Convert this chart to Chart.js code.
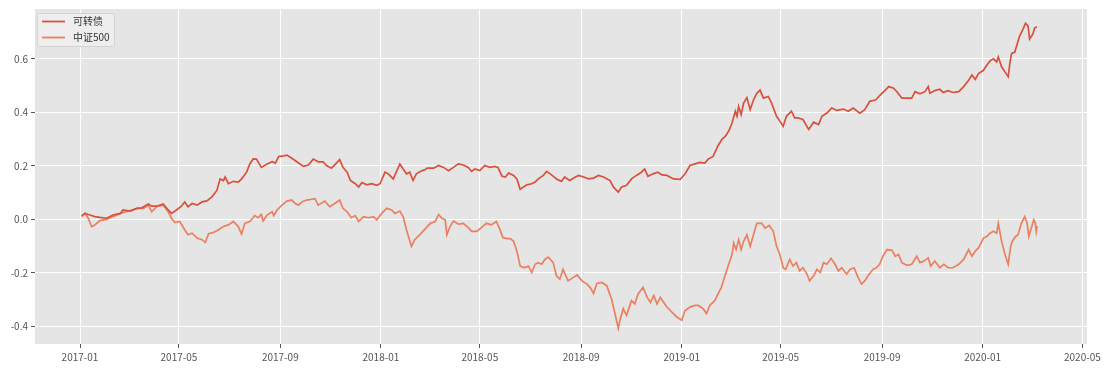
<!DOCTYPE html>
<html><head><meta charset="utf-8">
<script src="https://cdn.jsdelivr.net/npm/chart.js@4.4.1/dist/chart.umd.min.js"></script>
<style>html,body{margin:0;padding:0;background:#fff;}canvas{display:block;}</style>
</head><body>
<canvas id="c" width="1107" height="372"></canvas>
<script>
// ---- data ----
const seriesNames = ['可转债', '中证500'];
const xTickLabels = ['2017-01','2017-05','2017-09','2018-01','2018-05','2018-09','2019-01','2019-05','2019-09','2020-01','2020-05'];
const yTickValues = [-0.4, -0.2, 0.0, 0.2, 0.4, 0.6];
// x values: days since 2017-01-01
const cbDays = [2,6,12,18,24,32,40,49,52,61,69,75,83,87,93,101,107,111,117,123,127,131,136,142,148,154,160,166,170,174,176,180,186,192,196,202,206,210,214,220,227,233,237,241,247,251,257,263,271,277,283,289,295,299,305,311,315,319,324,328,334,338,342,348,354,360,364,370,374,380,388,392,396,400,404,408,415,419,421,429,435,441,447,453,459,465,471,475,479,485,491,497,503,507,512,516,520,526,530,534,538,542,548,552,556,562,566,572,578,584,588,594,601,605,611,617,623,629,635,643,647,653,657,663,669,675,681,685,689,695,701,706,712,720,728,734,740,746,752,758,762,768,774,779,783,787,791,795,797,799,802,805,809,813,817,821,825,829,835,839,845,849,853,857,863,867,871,877,884,890,896,900,906,912,918,926,932,938,946,952,958,965,971,977,981,987,991,997,1003,1009,1013,1019,1025,1029,1031,1037,1043,1047,1053,1059,1066,1072,1078,1082,1086,1090,1096,1100,1104,1108,1112,1114,1118,1122,1126,1128,1130,1134,1137,1140,1144,1147,1150,1152,1156,1158,1161];
const cbValues = [0.013,0.022,0.016,0.01,0.007,0.004,0.016,0.022,0.035,0.031,0.041,0.043,0.057,0.049,0.049,0.057,0.035,0.022,0.035,0.049,0.065,0.047,0.059,0.053,0.065,0.069,0.084,0.108,0.151,0.145,0.158,0.133,0.142,0.139,0.151,0.176,0.207,0.226,0.225,0.194,0.207,0.215,0.21,0.235,0.237,0.24,0.228,0.215,0.198,0.203,0.225,0.215,0.215,0.201,0.191,0.21,0.223,0.194,0.176,0.145,0.133,0.121,0.137,0.129,0.133,0.127,0.133,0.176,0.17,0.151,0.207,0.188,0.17,0.176,0.145,0.17,0.182,0.186,0.191,0.191,0.201,0.194,0.182,0.194,0.207,0.203,0.194,0.179,0.188,0.182,0.201,0.194,0.198,0.194,0.161,0.158,0.173,0.164,0.151,0.112,0.121,0.129,0.133,0.139,0.151,0.164,0.179,0.166,0.151,0.142,0.158,0.145,0.158,0.164,0.158,0.151,0.154,0.164,0.158,0.145,0.121,0.102,0.121,0.127,0.151,0.164,0.176,0.188,0.161,0.17,0.176,0.166,0.164,0.151,0.149,0.17,0.201,0.207,0.213,0.21,0.225,0.235,0.275,0.3,0.311,0.33,0.36,0.404,0.385,0.422,0.391,0.434,0.455,0.41,0.446,0.471,0.483,0.453,0.459,0.434,0.385,0.367,0.348,0.385,0.404,0.379,0.379,0.373,0.336,0.363,0.354,0.385,0.397,0.416,0.407,0.412,0.404,0.416,0.397,0.41,0.441,0.446,0.465,0.483,0.496,0.49,0.477,0.453,0.453,0.453,0.477,0.469,0.477,0.496,0.471,0.481,0.486,0.474,0.481,0.474,0.477,0.496,0.52,0.539,0.523,0.545,0.557,0.576,0.592,0.6,0.588,0.607,0.57,0.551,0.533,0.582,0.619,0.625,0.656,0.686,0.711,0.733,0.723,0.674,0.693,0.715,0.72];
const csiDays = [2,6,10,14,18,24,32,40,49,55,63,69,77,83,87,93,101,107,111,115,121,127,131,136,142,148,152,156,162,168,174,180,186,192,196,200,206,212,216,220,222,227,233,235,239,245,251,257,261,265,269,275,281,285,289,297,303,309,315,319,324,329,334,338,344,350,356,360,366,372,378,382,388,392,396,399,402,406,412,419,425,431,435,439,443,445,449,453,459,465,471,475,481,487,493,499,505,509,513,518,522,526,530,534,539,544,548,552,556,560,564,568,574,578,582,586,592,598,603,609,615,619,623,627,633,639,645,649,653,655,659,663,669,673,677,683,688,692,696,700,704,708,712,718,724,730,734,740,746,750,756,760,764,770,774,778,783,787,791,793,796,799,802,805,809,813,817,821,827,831,836,841,845,849,853,856,861,865,869,873,877,881,885,890,894,898,902,906,911,916,920,924,930,934,939,944,948,952,956,962,966,970,974,979,985,989,993,997,1003,1009,1015,1019,1024,1029,1032,1037,1043,1048,1053,1059,1066,1072,1078,1082,1086,1090,1096,1100,1104,1108,1112,1114,1118,1122,1126,1129,1131,1135,1138,1142,1146,1149,1151,1154,1157,1159,1160,1161];
const csiValues = [0.01,0.022,0.004,-0.027,-0.021,-0.005,0,0.01,0.022,0.028,0.035,0.041,0.041,0.053,0.028,0.047,0.053,0.028,0.004,-0.012,-0.008,-0.039,-0.058,-0.052,-0.07,-0.076,-0.086,-0.054,-0.049,-0.039,-0.027,-0.021,-0.008,-0.027,-0.055,-0.015,-0.008,0.014,0.006,0.018,-0.006,0.016,0.028,0.014,0.035,0.053,0.068,0.072,0.059,0.053,0.065,0.072,0.075,0.077,0.053,0.068,0.047,0.059,0.072,0.041,0.028,0.006,0.014,-0.008,0.01,0.006,0.01,-0.002,0.022,0.041,0.035,0.022,0.031,0.01,-0.039,-0.07,-0.101,-0.076,-0.058,-0.035,-0.015,-0.008,0.018,0.004,-0.002,-0.058,-0.027,-0.006,-0.018,-0.015,-0.031,-0.045,-0.045,-0.031,-0.015,-0.021,-0.008,-0.035,-0.068,-0.072,-0.072,-0.082,-0.119,-0.175,-0.181,-0.175,-0.199,-0.168,-0.162,-0.168,-0.15,-0.141,-0.162,-0.211,-0.224,-0.187,-0.23,-0.218,-0.208,-0.23,-0.242,-0.255,-0.277,-0.24,-0.236,-0.248,-0.3,-0.353,-0.408,-0.377,-0.334,-0.359,-0.304,-0.316,-0.279,-0.255,-0.292,-0.31,-0.285,-0.316,-0.292,-0.31,-0.328,-0.347,-0.365,-0.377,-0.341,-0.328,-0.322,-0.322,-0.334,-0.353,-0.322,-0.304,-0.279,-0.255,-0.205,-0.168,-0.131,-0.089,-0.113,-0.076,-0.113,-0.082,-0.058,-0.101,-0.058,-0.015,-0.015,-0.033,-0.023,-0.045,-0.101,-0.131,-0.181,-0.187,-0.15,-0.175,-0.162,-0.193,-0.181,-0.199,-0.23,-0.211,-0.187,-0.199,-0.162,-0.168,-0.146,-0.168,-0.193,-0.181,-0.205,-0.187,-0.181,-0.218,-0.242,-0.23,-0.211,-0.187,-0.181,-0.168,-0.138,-0.113,-0.116,-0.138,-0.131,-0.162,-0.172,-0.168,-0.138,-0.162,-0.156,-0.144,-0.175,-0.156,-0.181,-0.168,-0.181,-0.181,-0.168,-0.15,-0.113,-0.138,-0.119,-0.107,-0.07,-0.064,-0.052,-0.045,-0.052,-0.015,-0.082,-0.131,-0.168,-0.101,-0.082,-0.064,-0.058,-0.015,0.01,-0.015,-0.064,-0.033,-0.002,-0.015,-0.045,-0.025];

// ---- helpers ----
function dayOfLabel(label) {
  const [y, m] = label.split('-').map(Number);
  return (Date.UTC(y, m - 1, 1) - Date.UTC(2017, 0, 1)) / 86400000;
}
const tickDays = xTickLabels.map(dayOfLabel);
const toPoints = (xs, ys) => xs.map((x, i) => ({ x: x, y: ys[i] }));
const FONT = '"Noto Sans CJK SC", "Noto Sans", sans-serif';
const colors = ['#D9503D', '#EA805F'];

const bgPlugin = {
  id: 'bgPlugin',
  beforeDraw(chart) {
    const { ctx, chartArea: a } = chart;
    ctx.save();
    ctx.fillStyle = '#E5E5E5';
    ctx.fillRect(a.left, a.top, a.right - a.left, a.bottom - a.top);
    ctx.restore();
  }
};

const legendPlugin = {
  id: 'legendPlugin',
  afterDraw(chart) {
    const { ctx, chartArea: a } = chart;
    const x0 = a.left + 2, y0 = a.top + 4, w = 77, h = 33;
    ctx.save();
    ctx.fillStyle = 'rgba(238,238,238,0.9)';
    ctx.strokeStyle = '#D3D3D3';
    ctx.lineWidth = 1;
    ctx.beginPath();
    if (ctx.roundRect) ctx.roundRect(x0 + 0.5, y0 + 0.5, w, h, 2); else ctx.rect(x0 + 0.5, y0 + 0.5, w, h);
    ctx.fill();
    ctx.stroke();
    chart.data.datasets.forEach((ds, i) => {
      const yy = y0 + 8.5 + i * 16;
      ctx.strokeStyle = ds.borderColor;
      ctx.lineWidth = 1.8;
      ctx.beginPath();
      ctx.moveTo(x0 + 5, yy);
      ctx.lineTo(x0 + 28, yy);
      ctx.stroke();
      ctx.fillStyle = '#333';
      ctx.font = '10px ' + FONT;
      ctx.textBaseline = 'middle';
      ctx.textAlign = 'left';
      ctx.fillText(ds.label, x0 + 36, yy);
    });
    ctx.restore();
  }
};

new Chart(document.getElementById('c'), {
  type: 'line',
  data: {
    datasets: [
      { label: seriesNames[0], data: toPoints(cbDays, cbValues), borderColor: colors[0], borderWidth: 1.7, pointRadius: 0, tension: 0, fill: false },
      { label: seriesNames[1], data: toPoints(csiDays, csiValues), borderColor: colors[1], borderWidth: 1.7, pointRadius: 0, tension: 0, fill: false }
    ]
  },
  options: {
    responsive: false,
    animation: false,
    devicePixelRatio: 1,
    layout: { padding: { top: 5, right: 20, left: 0, bottom: 0 } },
    plugins: { legend: { display: false }, tooltip: { enabled: false } },
    scales: {
      x: {
        type: 'linear',
        min: -54.6,
        max: 1221.6,
        afterBuildTicks: ax => { ax.ticks = tickDays.map(v => ({ value: v })); },
        afterFit: s => { s.height = 28; },
        ticks: {
          callback: (v, i) => xTickLabels[i],
          color: '#555',
          font: { family: FONT, size: 10 },
          maxRotation: 0, minRotation: 0, autoSkip: false, padding: 3
        },
        grid: { color: '#FFFFFF', lineWidth: 1, tickColor: '#555', tickLength: 4, drawTicks: true },
        border: { display: false }
      },
      y: {
        type: 'linear',
        min: -0.466,
        max: 0.786,
        afterBuildTicks: ax => { ax.ticks = yTickValues.map(v => ({ value: v })); },
        afterFit: s => { s.width = 35; },
        ticks: {
          callback: v => v.toFixed(1),
          color: '#555',
          font: { family: FONT, size: 10 },
          padding: 3
        },
        grid: { color: '#FFFFFF', lineWidth: 1, tickColor: '#555', tickLength: 4, drawTicks: true },
        border: { display: false }
      }
    }
  },
  plugins: [bgPlugin, legendPlugin]
});
</script>
</body></html>
